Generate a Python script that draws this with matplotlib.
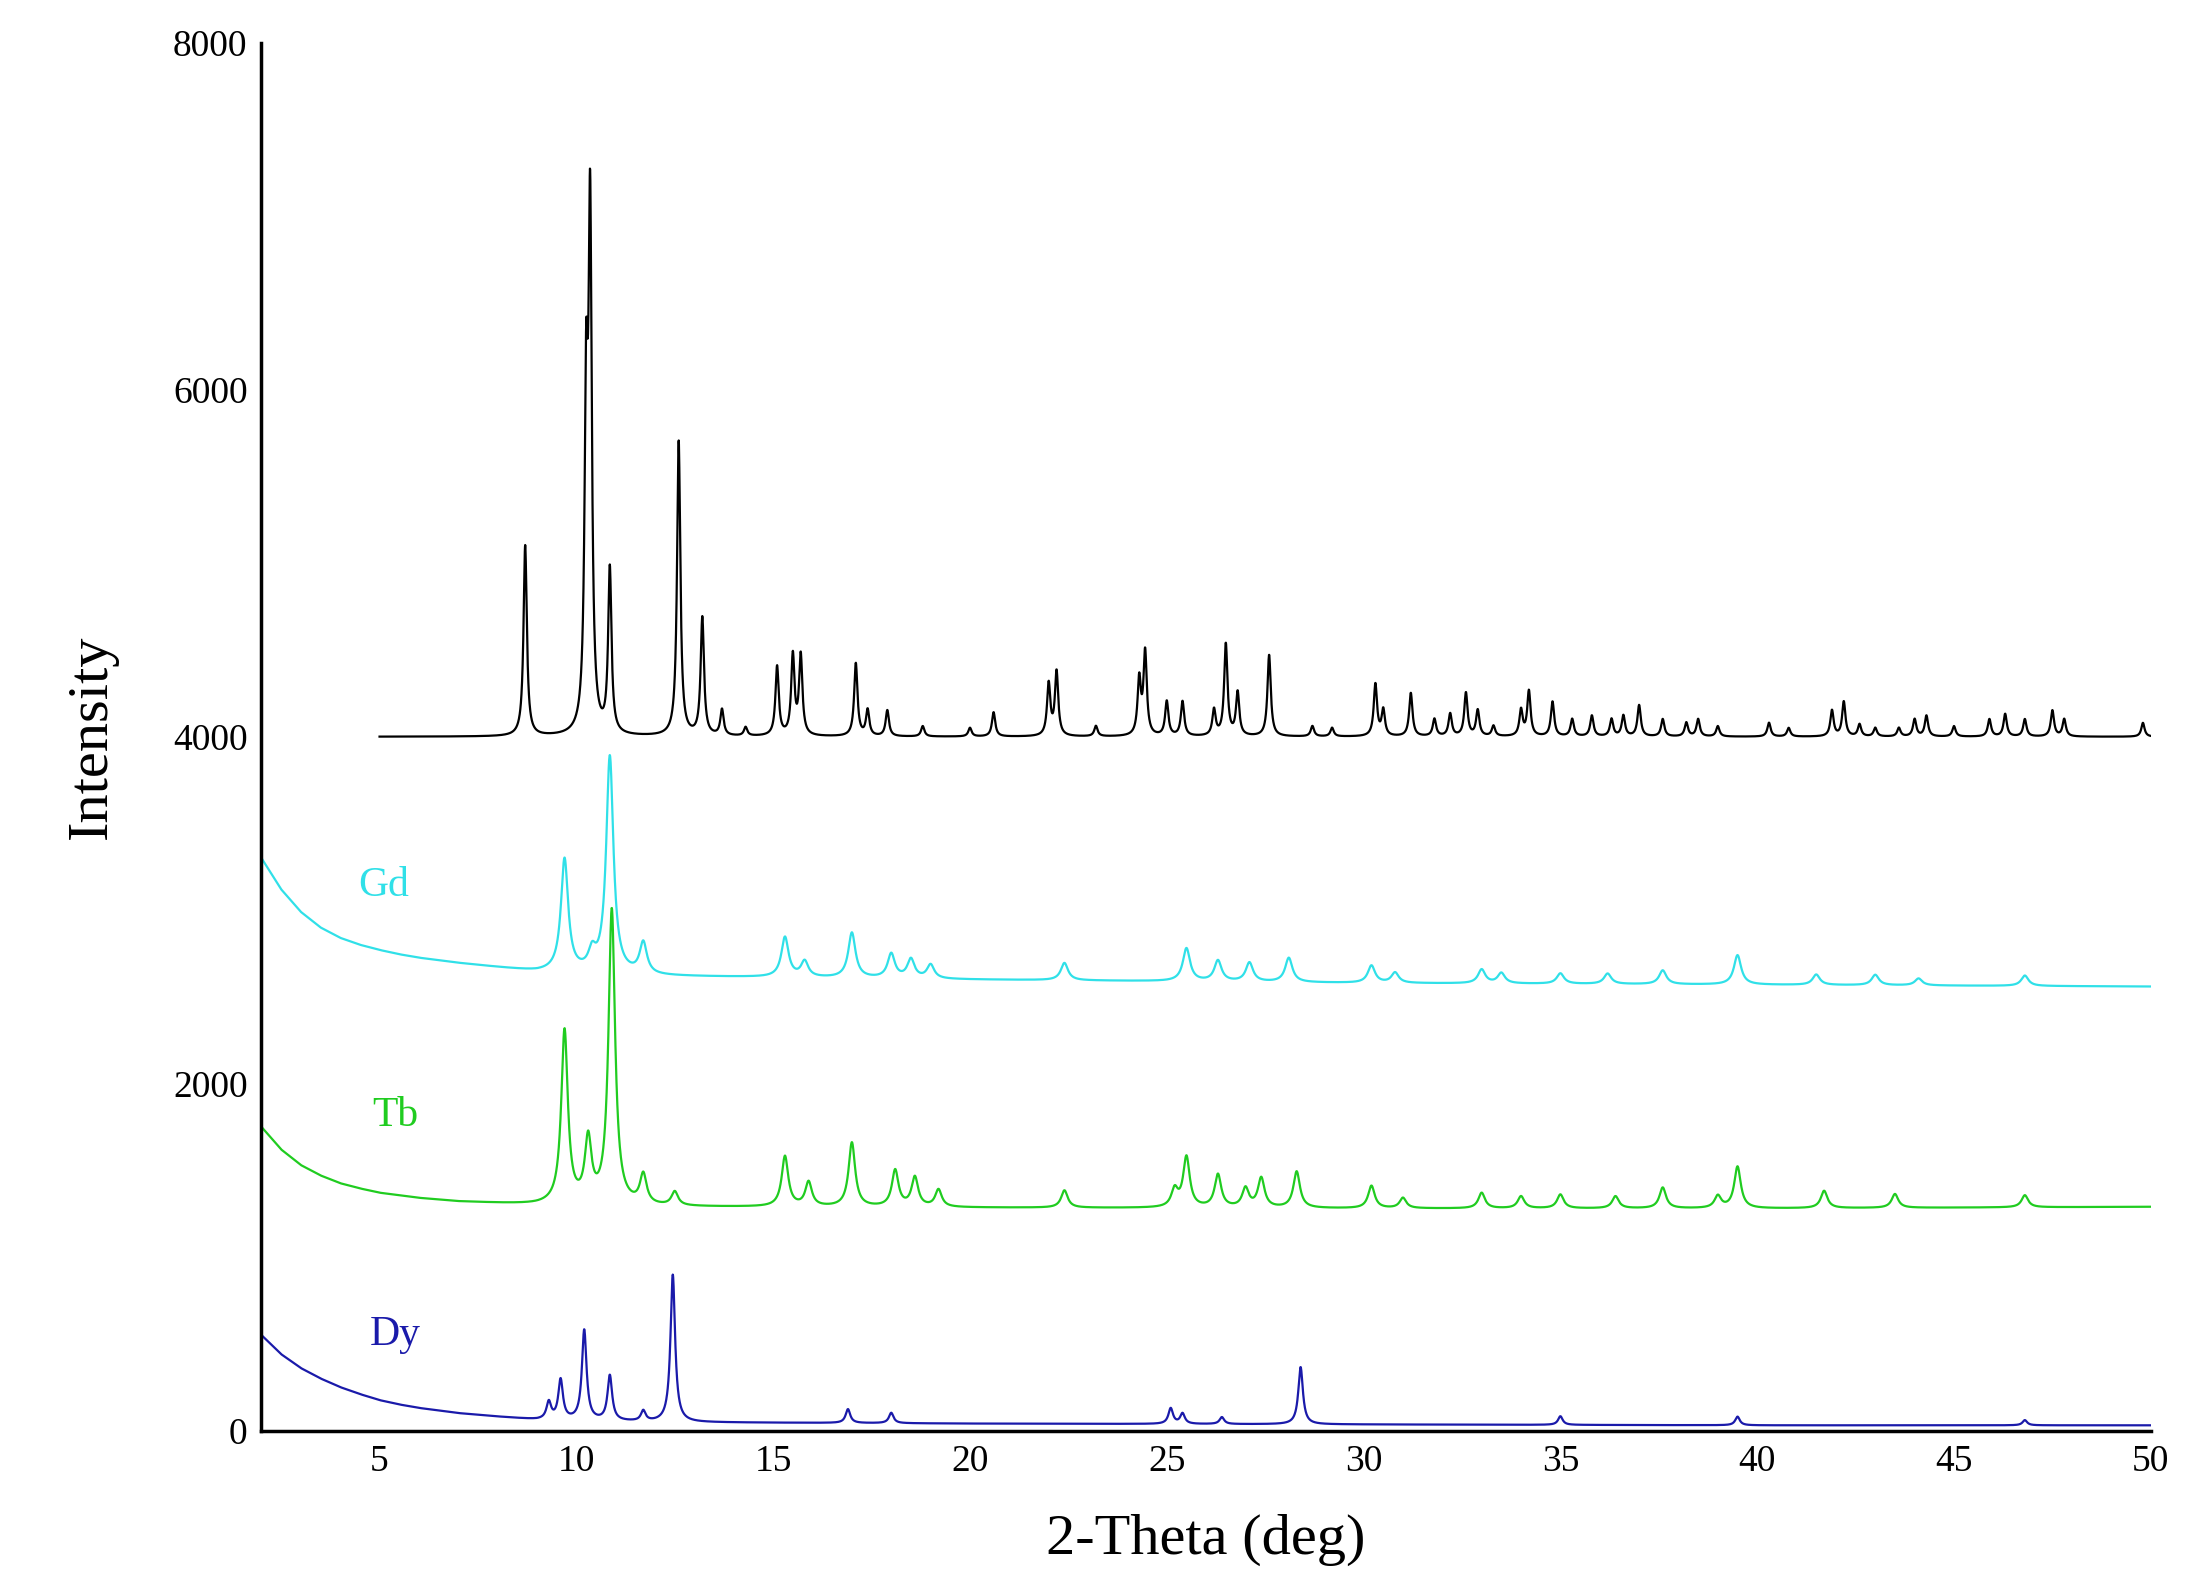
import numpy as np
import matplotlib
matplotlib.use("Agg")
import matplotlib.pyplot as plt

plt.rcParams['font.family'] = ['Liberation Serif', 'DejaVu Serif']

# ---- data: peak positions (2θ) and heights above background ----
ref_pos = [8.7,10.25,10.35,10.85,12.6,13.2,13.7,14.3,15.1,15.5,15.7,17.1,17.4,17.9,18.8,20.0,20.6,22.0,22.2,23.2,
           24.3,24.45,25.0,25.4,26.2,26.5,26.8,27.6,28.7,29.2,30.3,30.5,31.2,31.8,32.2,32.6,32.9,33.3,34.0,34.2,
           34.8,35.3,35.8,36.3,36.6,37.0,37.6,38.2,38.5,39.0,40.3,40.8,41.9,42.2,42.6,43.0,43.6,44.0,44.3,45.0,
           45.9,46.3,46.8,47.5,47.8,49.8]
ref_h = [1100,1800,2900,950,1700,680,150,50,400,460,460,420,150,150,60,50,140,300,370,60,
         320,480,200,200,150,530,250,470,60,50,300,150,250,100,130,250,150,60,150,260,
         200,100,120,100,120,180,100,80,100,60,80,50,150,200,70,50,50,100,120,60,
         100,130,100,150,100,80]
ref_base = 4000

gd_pos = [9.7,10.4,10.85,11.7,15.3,15.8,17.0,18.0,18.5,19.0,22.4,25.5,26.3,27.1,28.1,30.2,30.8,33.0,33.5,35.0,36.2,37.6,39.5,41.5,43.0,44.1,46.8]
gd_h = [650,100,1250,180,230,90,260,140,110,80,100,190,120,110,140,100,60,80,60,60,60,80,170,60,60,40,60]
gd_bx = [2,2.5,3,3.5,4,4.5,5,5.5,6,7,8,9,12,20,30,40,50]
gd_by = [3300,3120,2990,2900,2840,2800,2770,2745,2725,2695,2670,2645,2620,2600,2580,2570,2560]

tb_pos = [9.7,10.3,10.9,11.7,12.5,15.3,15.9,17.0,18.1,18.6,19.2,22.4,25.2,25.5,26.3,27.0,27.4,28.3,30.2,31.0,33.0,34.0,35.0,36.4,37.6,39.0,39.5,41.7,43.5,46.8]
tb_h = [1000,360,1700,170,80,290,140,370,210,170,100,100,100,290,190,110,170,210,130,60,90,70,80,70,120,70,240,100,80,70]
tb_bx = [2,2.5,3,3.5,4,4.5,5,5.5,6,7,8,9,12,20,30,40,50]
tb_by = [1750,1620,1530,1470,1425,1395,1370,1355,1340,1320,1310,1300,1290,1285,1280,1280,1290]

dy_pos = [9.3,9.6,10.2,10.85,11.7,12.45,16.9,18.0,25.1,25.4,26.4,28.4,35.0,39.5,46.8]
dy_h = [100,230,520,260,60,850,80,60,90,60,40,330,50,50,30]
dy_bx = [2,2.5,3,3.5,4,4.5,5,5.5,6,7,8,9,12,20,30,40,50]
dy_by = [550,440,360,300,250,210,175,150,130,100,80,62,48,40,35,30,30]

def pattern(x, pos, h, w, base):
    y = np.array(base, dtype=float)
    for p, a in zip(pos, h):
        y = y + a / (1 + ((x - p) / w) ** 2)
    return y

fig = plt.figure(figsize=(21.88, 15.93), dpi=100)
ax = fig.add_axes([0.1195, 0.102, 0.8635, 0.871])

x1 = np.linspace(5, 50, 9000)
ax.plot(x1, pattern(x1, ref_pos, ref_h, 0.05, np.full_like(x1, ref_base)), color='black', lw=1.6)
x2 = np.linspace(2, 50, 9000)
ax.plot(x2, pattern(x2, gd_pos, gd_h, 0.11, np.interp(x2, gd_bx, gd_by)), color='#30e0e8', lw=1.6)
ax.plot(x2, pattern(x2, tb_pos, tb_h, 0.1, np.interp(x2, tb_bx, tb_by)), color='#20cc20', lw=1.6)
ax.plot(x2, pattern(x2, dy_pos, dy_h, 0.07, np.interp(x2, dy_bx, dy_by)), color='#1a1aaa', lw=1.6)

ax.text(5.1, 3140, 'Gd', color='#30e0e8', fontsize=30, ha='center', va='center')
ax.text(5.4, 1815, 'Tb', color='#20cc20', fontsize=30, ha='center', va='center')
ax.text(5.4, 550, 'Dy', color='#1a1aaa', fontsize=30, ha='center', va='center')

ax.set_xlim(2, 50)
ax.set_ylim(0, 8000)
ax.set_xticks([5,10,15,20,25,30,35,40,45,50])
ax.set_yticks([0,2000,4000,6000,8000])
ax.tick_params(labelsize=27, length=0, pad=10)
for s in ['top', 'right']:
    ax.spines[s].set_visible(False)
for s in ['left', 'bottom']:
    ax.spines[s].set_linewidth(2.5)
ax.set_xlabel('2-Theta (deg)', fontsize=42, labelpad=25)
ax.set_ylabel('Intensity', fontsize=42, labelpad=40)

fig.savefig('out.png', dpi=100)
